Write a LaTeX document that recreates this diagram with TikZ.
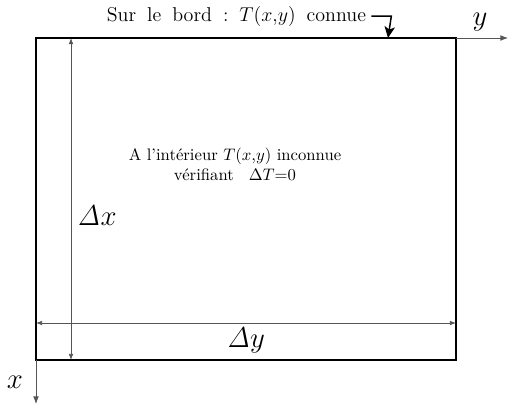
\documentclass[tikz,border=0pt]{standalone}
\usepackage{tikz}
\usetikzlibrary{arrows.meta, positioning, calc}
\definecolor{AxisGray}{HTML}{555555}
\tikzset{
  plate/.style={draw=black, line width=1.4pt},
  axis/.style={-{Latex[length=1.6mm, width=1.2mm]}, draw=AxisGray, line width=0.5pt},
  dim/.style={{Latex[length=1.3mm, width=1mm]}-{Latex[length=1.3mm, width=1mm]}, draw=AxisGray, line width=0.5pt},
  pointer/.style={-{Stealth[length=2.4mm, width=2.2mm, inset=0.6mm]}, draw=black, line width=0.9pt},
  note/.style={align=center, inner sep=1pt, font=\normalsize},
  biglabel/.style={inner sep=1pt, font=\LARGE}
}
\newcommand{\gap}{\hspace{0.55em}}
\begin{document}
\begin{tikzpicture}[x=0.6pt, y=-0.6pt]
\useasboundingbox (0,0) rectangle (513,404);
% plate corners
\coordinate (nw) at (36,38);
\coordinate (ne) at (456,38);
\coordinate (se) at (456,360);
\coordinate (sw) at (36,360);
\draw[plate] (nw) -- (ne) -- (se) -- (sw) -- cycle;
% axes
\coordinate (yend) at (508,38);
\coordinate (xend) at (36,404);
\draw[axis] (ne) -- (yend);
\draw[axis] (sw) -- (xend);
\node[biglabel] (ylab) at (480,22) {$y$};
\node[biglabel] (xlab) at (15,382) {$x$};
% dimensions
\coordinate (dxtop) at (71,38);
\coordinate (dxbot) at (71,360);
\coordinate (dyleft) at (36,323);
\coordinate (dyright) at (456,323);
\draw[dim] (dxtop) -- (dxbot);
\draw[dim] (dyleft) -- (dyright);
\node[biglabel] (dxlab) at (97,216) {$\mathit{\Delta} x$};
\node[biglabel] (dylab) at (246,340) {$\mathit{\Delta} y$};
% texts
\node[note, font=\large, anchor=east] (bord) at (368,16) {Sur\gap le\gap bord\gap :\gap $T(x$,$y)$\gap connue};
\coordinate (hit) at (388,38);
\draw[pointer] ([xshift=2pt]bord.east) -- ([xshift=2pt]bord.east -| hit) -- (hit);
\node[note] (inter) at (235,164) {A l'intérieur $T(x$,$y)$ inconnue\\ vérifiant\hspace{0.9em}$\Delta T$=0};
\end{tikzpicture}
\end{document}
